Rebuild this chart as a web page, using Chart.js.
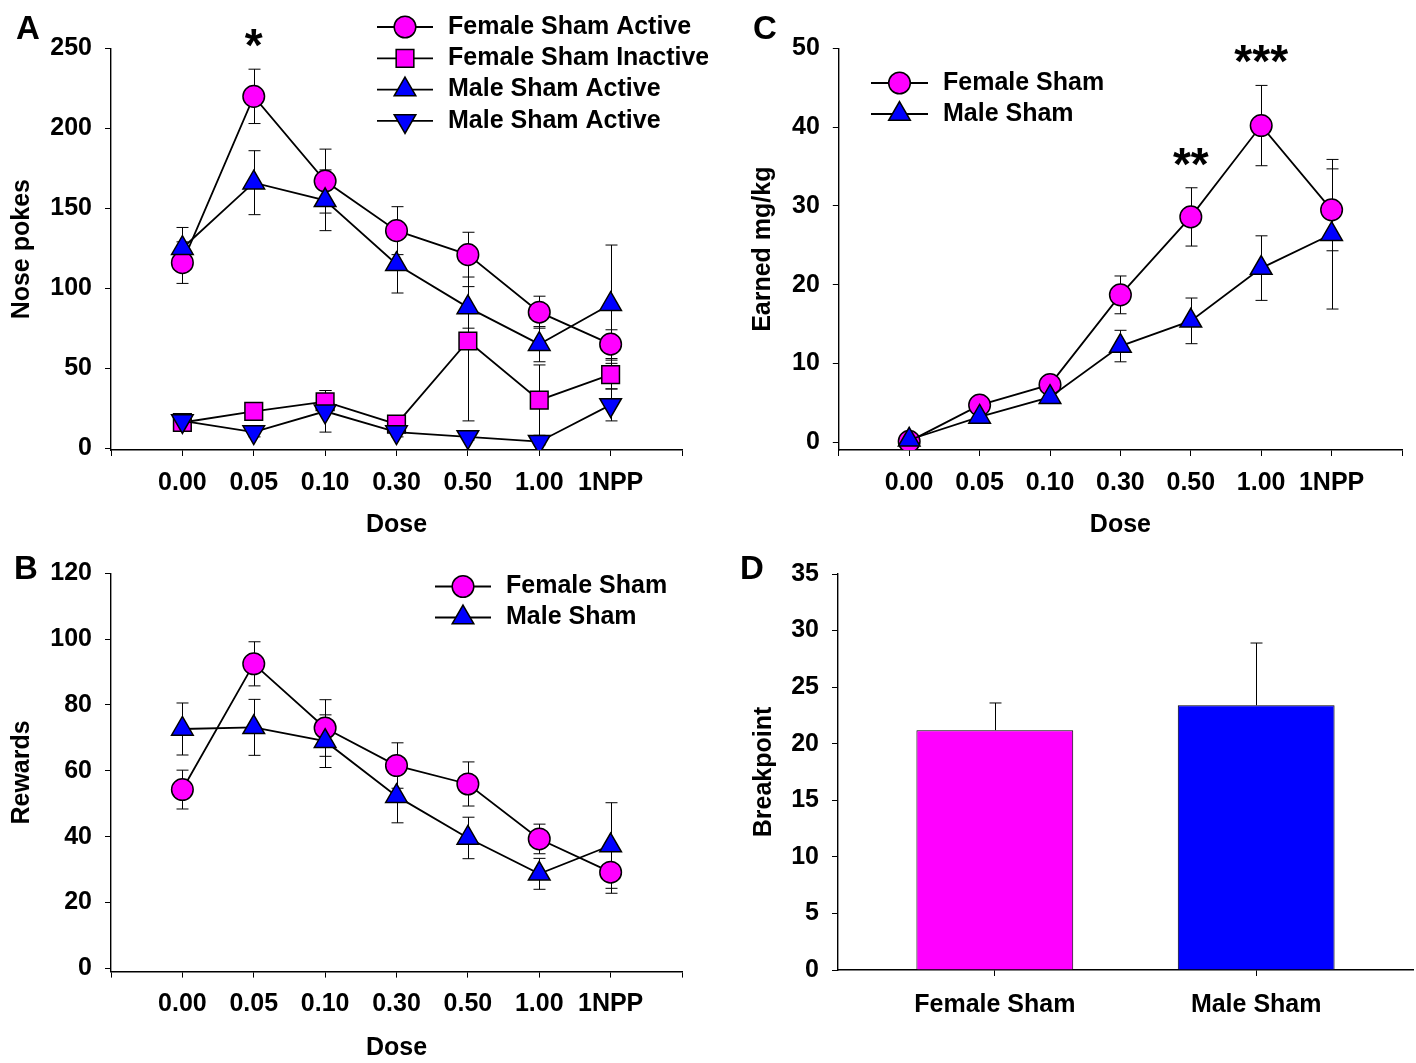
<!DOCTYPE html>
<html>
<head>
<meta charset="utf-8">
<script src="https://cdn.jsdelivr.net/npm/chart.js@4.4.1/dist/chart.umd.min.js"></script>
<style>
  body { margin: 0; background: #fff; width: 1416px; height: 1063px; position: relative; overflow: hidden; }
  .panel { position: absolute; }
  .letter { position: absolute; font: bold 33px "Liberation Sans", Arial, sans-serif; line-height: 33px; color: #000; }
</style>
</head>
<body>
<div class="panel" style="left:0;top:0;width:708px;height:540px"><canvas id="chartA"></canvas></div>
<div class="panel" style="left:708px;top:0;width:708px;height:540px"><canvas id="chartC"></canvas></div>
<div class="panel" style="left:0;top:540px;width:708px;height:523px"><canvas id="chartB"></canvas></div>
<div class="panel" style="left:708px;top:540px;width:708px;height:523px"><canvas id="chartD"></canvas></div>
<div class="letter" style="left:16px;top:11px">A</div>
<div class="letter" style="left:753px;top:11px">C</div>
<div class="letter" style="left:14px;top:551px">B</div>
<div class="letter" style="left:740px;top:551px">D</div>
<script>
const doses = ['0.00', '0.05', '0.10', '0.30', '0.50', '1.00', '1NPP'];
const doseSlots = [-1, 0, 1, 2, 3, 4, 5, 6, 7];

// A - nose pokes
const femaleActive = [116, 220, 167, 136, 121, 85, 65];
const femaleActiveErr = [13, 17, 20, 15, 14, 10, 9];
const femaleInactive = [16, 23, 29, 15, 67, 30, 46];
const femaleInactiveErr = [2, 3, 7, 3, 50, 22, 9];
const maleActive = [125, 166, 155, 115, 88, 65, 90];
const maleActiveErr = [13, 20, 19, 18, 13, 11, 37];
const maleInactive = [17, 10, 23, 10, 7, 4, 27];
const maleInactiveErr = [2, 3, 13, 3, 2, 2, 10];
const starsA = ['', '*', '', '', '', '', ''];
const ticksA = [0, 50, 100, 150, 200, 250];

// B - rewards
const femaleRewards = [54.3, 92.5, 73, 61.6, 56, 39.3, 29.2];
const femaleRewardsErr = [5.9, 6.7, 8.6, 6.9, 6.7, 4.5, 6.4];
const maleRewards = [72.7, 73.2, 69, 52.3, 39.6, 28.7, 37.3];
const maleRewardsErr = [7.9, 8.5, 8, 8.1, 6.3, 4.7, 13];
const ticksB = [0, 20, 40, 60, 80, 100, 120];

// C - earned mg/kg
const femaleEarned = [0.1, 4.7, 7.3, 18.7, 28.6, 40.2, 29.5];
const femaleEarnedErr = [0.3, 0.5, 0.6, 2.4, 3.7, 5.1, 5.2];
const maleEarned = [0.3, 3.2, 5.7, 12.2, 15.4, 22.1, 26.4];
const maleEarnedErr = [0.3, 0.4, 0.5, 2, 2.9, 4.1, 9.5];
const starsC = ['', '', '', '', '**', '***', ''];
const ticksC = [0, 10, 20, 30, 40, 50];

// D - breakpoint
const groups = ['Female Sham', 'Male Sham'];
const breakpoint = [21.2, 23.4];
const breakpointErr = [2.4, 5.5];
const ticksD = [0, 5, 10, 15, 20, 25, 30, 35];

const MAGENTA = '#FF00FF';
const BLUE = '#0000FF';
const FONT = '"Liberation Sans", Arial, sans-serif';

Chart.defaults.font.family = FONT;
Chart.defaults.font.weight = 'bold';
Chart.defaults.font.size = 25;
Chart.defaults.color = '#000';

const errorBarPlugin = {
  id: 'errorBars',
  beforeDatasetsDraw(chart) {
    const ctx = chart.ctx;
    const yScale = chart.scales.y;
    chart.data.datasets.forEach((ds, i) => {
      if (!ds.errors) return;
      const meta = chart.getDatasetMeta(i);
      ctx.save();
      ctx.strokeStyle = '#000';
      ctx.lineWidth = 1;
      meta.data.forEach((el, j) => {
        const err = ds.errors[j];
        const v = ds.data[j].y;
        const x = Math.round(el.x) + 0.5;
        const top = yScale.getPixelForValue(v + err);
        const bottom = ds.upOnly ? el.y : yScale.getPixelForValue(v - err);
        ctx.beginPath();
        ctx.moveTo(x, top);
        ctx.lineTo(x, bottom);
        ctx.moveTo(x - 6, top);
        ctx.lineTo(x + 6, top);
        if (!ds.upOnly) {
          ctx.moveTo(x - 6, bottom);
          ctx.lineTo(x + 6, bottom);
        }
        ctx.stroke();
      });
      ctx.restore();
    });
  }
};

// significance marks sit a little above the top of the error bar
const starPlugin = {
  id: 'stars',
  afterDatasetsDraw(chart) {
    const ctx = chart.ctx;
    const yScale = chart.scales.y;
    chart.data.datasets.forEach((ds, i) => {
      if (!ds.stars) return;
      const meta = chart.getDatasetMeta(i);
      ctx.save();
      ctx.fillStyle = '#000';
      ctx.font = 'bold 46px ' + FONT;
      ctx.textAlign = 'center';
      ctx.textBaseline = 'alphabetic';
      ds.stars.forEach((s, j) => {
        if (!s) return;
        const top = yScale.getPixelForValue(ds.data[j].y + ds.errors[j]);
        ctx.fillText(s, meta.data[j].x, top - 8);
      });
      ctx.restore();
    });
  }
};

const lineLegendPlugin = {
  id: 'lineLegend',
  afterDraw(chart, args, opts) {
    if (!opts || !opts.labels) return;
    const ctx = chart.ctx;
    ctx.save();
    opts.labels.forEach((label, i) => {
      const ds = chart.data.datasets[i];
      const y = opts.y + i * opts.rowGap;
      ctx.strokeStyle = '#000';
      ctx.lineWidth = 1.8;
      ctx.beginPath();
      ctx.moveTo(opts.x0, y);
      ctx.lineTo(opts.x1, y);
      ctx.stroke();
      ctx.fillStyle = ds.pointBackgroundColor;
      ctx.lineWidth = 1.5;
      Chart.helpers.drawPoint(ctx, {
        pointStyle: ds.pointStyle,
        rotation: ds.pointRotation || 0,
        radius: ds.pointRadius,
        borderWidth: 1.5
      }, (opts.x0 + opts.x1) / 2, y);
      ctx.fillStyle = '#000';
      ctx.font = 'bold 25px ' + FONT;
      ctx.textAlign = 'left';
      ctx.textBaseline = 'middle';
      ctx.fillText(label, opts.textX, y);
    });
    ctx.restore();
  }
};

const markerRadius = { circle: 10.8, triangle: 12.5, rect: 12.5 };

function series(values, errors, style, color, extra) {
  return Object.assign({
    data: values.map((v, i) => ({ x: i, y: v })),
    errors: errors,
    borderColor: '#000',
    borderWidth: 1.8,
    backgroundColor: color,
    pointStyle: style,
    pointRadius: markerRadius[style],
    pointBackgroundColor: color,
    pointBorderColor: '#000',
    pointBorderWidth: 1.5,
    tension: 0
  }, extra || {});
}

function axisStyle() {
  return {
    grid: { drawOnChartArea: false, drawTicks: true, tickLength: 6, color: '#000', lineWidth: 1, offset: false },
    border: { color: '#000', width: 1.4 }
  };
}

function lineChart(id, cfg) {
  return new Chart(document.getElementById(id), {
    type: 'line',
    data: { datasets: cfg.datasets },
    options: {
      responsive: true,
      maintainAspectRatio: false,
      animation: false,
      events: [],
      layout: { padding: cfg.padding },
      plugins: {
        legend: { display: false },
        tooltip: { enabled: false },
        lineLegend: cfg.legend
      },
      scales: {
        x: Object.assign(axisStyle(), {
          type: 'linear',
          min: -1,
          max: 7,
          afterBuildTicks: (s) => { s.ticks = doseSlots.map((v) => ({ value: v })); },
          afterFit: (s) => { s.height = cfg.xHeight; },
          ticks: { autoSkip: false, maxRotation: 0, padding: 12, callback: (v) => doses[v] ?? '' },
          title: { display: true, text: 'Dose', padding: { top: 0, bottom: 0 } }
        }),
        y: Object.assign(axisStyle(), {
          min: cfg.yMin,
          max: cfg.yMax,
          afterBuildTicks: (s) => { s.ticks = cfg.yTicks.map((v) => ({ value: v })); },
          afterFit: (s) => { s.width = cfg.yWidth; },
          ticks: { padding: 13 },
          title: { display: true, text: cfg.yTitle, padding: { top: 7, bottom: 0 } }
        })
      }
    },
    plugins: [errorBarPlugin, starPlugin, lineLegendPlugin]
  });
}

// Panel A
lineChart('chartA', {
  datasets: [
    series(femaleActive, femaleActiveErr, 'circle', MAGENTA, { order: 1, stars: starsA }),
    series(femaleInactive, femaleInactiveErr, 'rect', MAGENTA, { order: 1 }),
    series(maleActive, maleActiveErr, 'triangle', BLUE, { order: 0 }),
    series(maleInactive, maleInactiveErr, 'triangle', BLUE, { order: 0, pointRotation: 180 })
  ],
  padding: { left: 0, right: 26, top: 48.4, bottom: 0 },
  xHeight: 90,
  yMin: -1.2, yMax: 250, yTicks: ticksA, yWidth: 111, yTitle: 'Nose pokes',
  legend: {
    labels: ['Female Sham Active', 'Female Sham Inactive', 'Male Sham Active', 'Male Sham Active'],
    x0: 377, x1: 433, textX: 448, y: 27, rowGap: 31.3
  }
});

// Panel C
lineChart('chartC', {
  datasets: [
    series(femaleEarned, femaleEarnedErr, 'circle', MAGENTA, { order: 1, stars: starsC }),
    series(maleEarned, maleEarnedErr, 'triangle', BLUE, { order: 0 })
  ],
  padding: { left: 33, right: 8, top: 48.4, bottom: 0 },
  xHeight: 90,
  yMin: -1, yMax: 50, yTicks: ticksC, yWidth: 97.8, yTitle: 'Earned mg/kg',
  legend: {
    labels: ['Female Sham', 'Male Sham'],
    x0: 163, x1: 220, textX: 235, y: 83, rowGap: 31
  }
});

// Panel B
lineChart('chartB', {
  datasets: [
    series(femaleRewards, femaleRewardsErr, 'circle', MAGENTA, { order: 1 }),
    series(maleRewards, maleRewardsErr, 'triangle', BLUE, { order: 0 })
  ],
  padding: { left: 0, right: 26, top: 33.3, bottom: 0 },
  xHeight: 91.4,
  yMin: -1, yMax: 120, yTicks: ticksB, yWidth: 111, yTitle: 'Rewards',
  legend: {
    labels: ['Female Sham', 'Male Sham'],
    x0: 435, x1: 491, textX: 506, y: 46.5, rowGap: 31
  }
});

// Panel D
new Chart(document.getElementById('chartD'), {
  type: 'bar',
  data: {
    datasets: [{
      data: breakpoint.map((v, i) => ({ x: i, y: v })),
      errors: breakpointErr,
      upOnly: true,
      backgroundColor: [MAGENTA, BLUE],
      borderColor: '#000',
      borderWidth: 1,
      categoryPercentage: 1,
      barPercentage: 0.6
    }]
  },
  options: {
    responsive: true,
    maintainAspectRatio: false,
    animation: false,
    events: [],
    layout: { padding: { left: 34, right: 3, top: 34, bottom: 0 } },
    plugins: { legend: { display: false }, tooltip: { enabled: false } },
    scales: {
      x: Object.assign(axisStyle(), {
        type: 'linear',
        offset: false,
        min: -0.6,
        max: 1.6,
        afterBuildTicks: (s) => { s.ticks = groups.map((g, i) => ({ value: i })); },
        afterFit: (s) => { s.height = 93; },
        ticks: { autoSkip: false, maxRotation: 0, padding: 14, callback: (v) => groups[v] ?? '' }
      }),
      y: Object.assign(axisStyle(), {
        min: 0,
        max: 35,
        afterBuildTicks: (s) => { s.ticks = ticksD.map((v) => ({ value: v })); },
        afterFit: (s) => { s.width = 96; },
        ticks: { padding: 13 },
        title: { display: true, text: 'Breakpoint', padding: { top: 7, bottom: 0 } }
      })
    }
  },
  plugins: [errorBarPlugin]
});
</script>
</body>
</html>
